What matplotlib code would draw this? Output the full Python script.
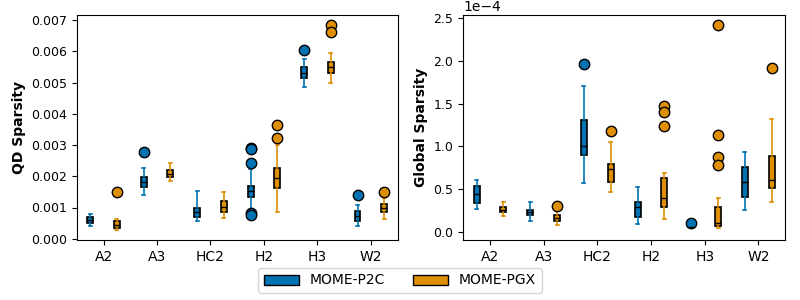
import numpy as np
import matplotlib.pyplot as plt

# kategorier och serier
envs = ['A2', 'A3', 'HC2', 'H2', 'H3', 'W2']
methods = ['MOME-P2C', 'MOME-PGX']
colors = ['#0173b2', '#de8f05']

# QD sparsity: [whislo, q1, med, q3, whishi] per miljö
qd_p2c = [[0.00042, 0.00051, 0.00060, 0.00069, 0.00079],
          [0.00139, 0.00166, 0.00181, 0.00197, 0.00226],
          [0.00058, 0.00069, 0.00087, 0.00100, 0.00152],
          [0.00092, 0.00134, 0.00153, 0.00170, 0.00222],
          [0.00487, 0.00513, 0.00531, 0.00549, 0.00574],
          [0.00042, 0.00058, 0.00073, 0.00089, 0.00108]]
qd_pgx = [[0.00027, 0.00033, 0.00044, 0.00057, 0.00063],
          [0.00186, 0.00197, 0.00208, 0.00219, 0.00241],
          [0.00067, 0.00085, 0.00103, 0.00120, 0.00149],
          [0.00086, 0.00163, 0.00193, 0.00225, 0.00300],
          [0.00497, 0.00529, 0.00549, 0.00567, 0.00593],
          [0.00062, 0.00085, 0.00097, 0.00111, 0.00132]]
qd_p2c_fl = [[], [0.00277], [], [0.00289, 0.00287, 0.00241, 0.00081, 0.00075], [0.00603], [0.00140]]
qd_pgx_fl = [[0.00149], [], [], [0.00364, 0.00321], [0.00684, 0.00663], [0.00149]]

# Global sparsity (enhet 1e-4)
gs_p2c = [[0.265, 0.342, 0.444, 0.537, 0.607],
          [0.125, 0.195, 0.230, 0.257, 0.347],
          [0.576, 0.903, 1.005, 1.308, 1.706],
          [0.090, 0.179, 0.288, 0.347, 0.526],
          [0.050, 0.055, 0.060, 0.070, 0.075],
          [0.253, 0.413, 0.588, 0.756, 0.931]]
gs_pgx = [[0.190, 0.230, 0.257, 0.288, 0.350],
          [0.078, 0.132, 0.167, 0.199, 0.242],
          [0.471, 0.588, 0.732, 0.794, 1.051],
          [0.148, 0.296, 0.394, 0.627, 0.686],
          [0.043, 0.070, 0.100, 0.288, 0.394],
          [0.347, 0.510, 0.604, 0.888, 1.320]]
gs_p2c_fl = [[], [], [1.959], [], [0.100], []]
gs_pgx_fl = [[], [0.300], [1.176], [1.472, 1.405, 1.238], [2.418, 1.130, 0.873, 0.779], [1.912]]


def stats(rows, fliers, scale=1.0):
    out = []
    for r, f in zip(rows, fliers):
        out.append(dict(whislo=r[0]*scale, q1=r[1]*scale, med=r[2]*scale,
                        q3=r[3]*scale, whishi=r[4]*scale,
                        fliers=np.array(f)*scale))
    return out


def draw(ax, data):
    x = np.arange(len(envs))
    for k, (rows, fl, scale) in enumerate(data):
        c = colors[k]
        ax.bxp(stats(rows, fl, scale), positions=x + (k - 0.5)*0.5, widths=0.11,
               patch_artist=True, manage_ticks=False,
               boxprops=dict(facecolor=c, edgecolor='black', linewidth=1.2),
               medianprops=dict(color='black', linewidth=1),
               whiskerprops=dict(color=c, linewidth=1.2),
               capprops=dict(color=c, linewidth=1.2),
               flierprops=dict(marker='o', markerfacecolor=c, markeredgecolor='black',
                               markersize=7.5, markeredgewidth=1))
    ax.set_xticks(x)
    ax.set_xticklabels(envs, fontsize=10)
    ax.set_xlim(-0.5, 5.5)


fig = plt.figure(figsize=(8, 3), dpi=100)
ax1 = fig.add_axes([0.096, 0.2, 0.401, 0.75])
ax2 = fig.add_axes([0.579, 0.2, 0.4025, 0.75])

draw(ax1, [(qd_p2c, qd_p2c_fl, 1.0), (qd_pgx, qd_pgx_fl, 1.0)])
ax1.set_ylim(-0.00004, 0.00716)
ax1.set_yticks(np.arange(0, 0.0071, 0.001))
ax1.set_yticklabels([f'{v:.3f}' for v in np.arange(0, 0.0071, 0.001)], fontsize=9)
ax1.set_ylabel('QD Sparsity', fontweight='bold', fontsize=10)

draw(ax2, [(gs_p2c, gs_p2c_fl, 1e-4), (gs_pgx, gs_pgx_fl, 1e-4)])
ax2.set_ylim(-0.093e-4, 2.535e-4)
ax2.set_yticks(np.arange(0, 2.6e-4, 0.5e-4))
ax2.ticklabel_format(axis='y', style='sci', scilimits=(0, 0))
ax2.tick_params(axis='y', labelsize=9)
ax2.set_ylabel('Global Sparsity', fontweight='bold', fontsize=10)

handles = [plt.Rectangle((0, 0), 1, 1, facecolor=c, edgecolor='black') for c in colors]
fig.legend(handles, methods, loc='lower center', ncol=2, bbox_to_anchor=(0.5, 0.0),
           fontsize=10, handlelength=2.5, columnspacing=2.0)

fig.savefig('out.png')
